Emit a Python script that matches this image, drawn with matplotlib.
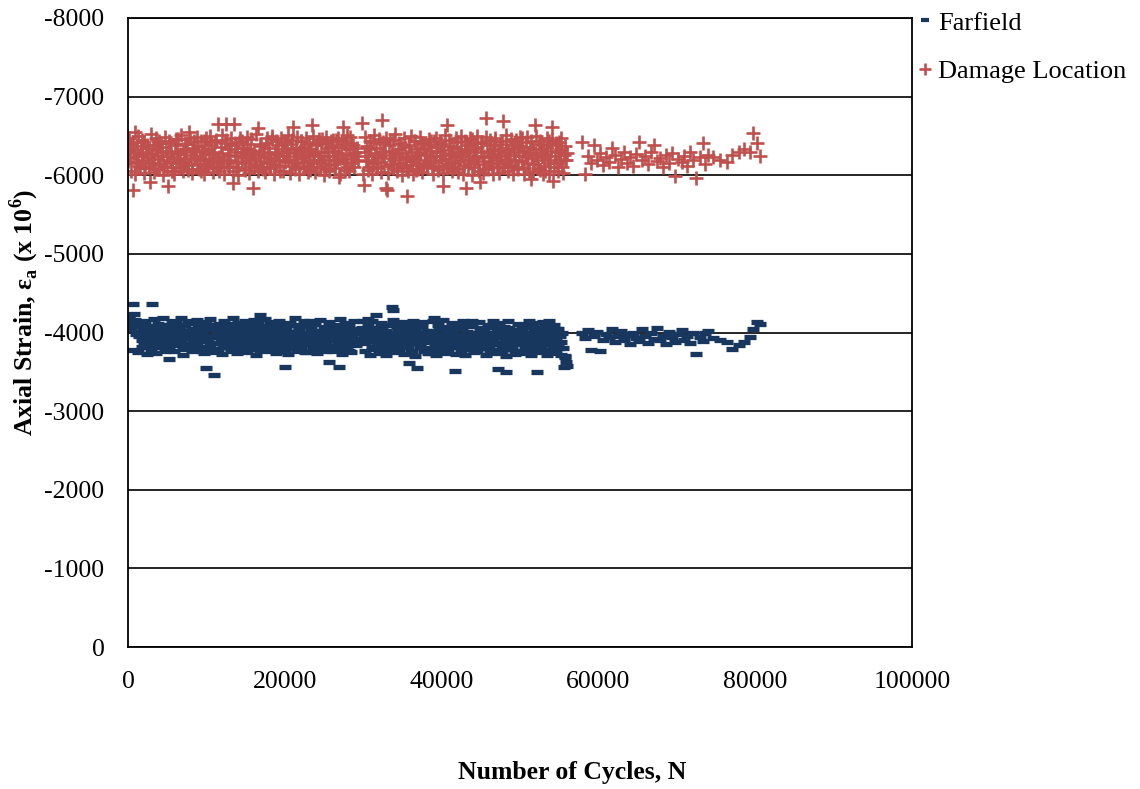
import numpy as np
import matplotlib
matplotlib.use("Agg")
import matplotlib.pyplot as plt
from matplotlib.ticker import FuncFormatter, MultipleLocator

plt.rcParams['font.family'] = ['Liberation Serif', 'DejaVu Serif']
plt.rcParams['mathtext.fontset'] = 'custom'
plt.rcParams['mathtext.rm'] = 'Liberation Serif'
plt.rcParams['mathtext.bf'] = 'Liberation Serif:bold'
plt.rcParams['axes.unicode_minus'] = False

# cycle counts, shared by both gauges, in four recording blocks
cycles_seg1 = [
    0, 150, 290, 440, 580, 730, 870, 1020, 1160, 1310,
    1450, 1600, 1740, 1890, 2030, 2180, 2320, 2470, 2610, 2760,
    2900, 3050, 3190, 3340, 3480, 3630, 3770, 3920, 4060, 4210,
    4350, 4500, 4640, 4790, 4930, 5080, 5220, 5370, 5510, 5660,
    5800, 5950, 6090, 6240, 6380, 6530, 6670, 6820, 6960, 7110,
    7250, 7400, 7540, 7690, 7830, 7980, 8120, 8270, 8410, 8560,
    8700, 8850, 8990, 9140, 9280, 9430, 9570, 9720, 9860, 10010,
    10150, 10300, 10440, 10590, 10730, 10880, 11020, 11170, 11310, 11460,
    11600, 11750, 11890, 12040, 12180, 12330, 12470, 12620, 12760, 12910,
    13050, 13200, 13340, 13490, 13630, 13780, 13920, 14070, 14210, 14360,
    14500, 14650, 14790, 14940, 15080, 15230, 15370, 15520, 15660, 15810,
    15950, 16100, 16240, 16390, 16530, 16680, 16820, 16970, 17110, 17260,
    17400, 17550, 17690, 17840, 17980, 18130, 18270, 18420, 18560, 18710,
    18850, 19000, 19140, 19290, 19430, 19580, 19720, 19870, 20010, 20160,
    20300, 20450, 20590, 20740, 20880, 21030, 21170, 21320, 21460, 21610,
    21750, 21900, 22040, 22190, 22330, 22480, 22620, 22770, 22910, 23060,
    23200, 23350, 23490, 23640, 23780, 23930, 24070, 24220, 24360, 24510,
    24650, 24800, 24940, 25090, 25230, 25380, 25520, 25670, 25810, 25960,
    26100, 26250, 26390, 26540, 26680, 26830, 26970, 27120, 27260, 27410,
    27550, 27700, 27840, 27990, 28130, 28280, 28420, 28570, 28710, 28860,
    29000, 29150, 29300,
]
cycles_seg1b = [
    70, 360, 650, 940, 1230, 1520, 1810, 2100, 2390, 2680,
    2970, 3260, 3550, 3840, 4130, 4420, 4710, 5000, 5290, 5580,
    5870, 6160, 6450, 6740, 7030, 7320, 7610, 7900, 8190, 8480,
    8770, 9060, 9350, 9640, 9930, 10220, 10510, 10800, 11090, 11380,
    11670, 11960, 12250, 12540, 12830, 13120, 13410, 13700, 13990, 14280,
    14570, 14860, 15150, 15440, 15730, 16020, 16310, 16600, 16890, 17180,
    17470, 17760, 18050, 18340, 18630, 18920, 19210, 19500, 19790, 20080,
    20370, 20660, 20950, 21240, 21530, 21820, 22110, 22400, 22690, 22980,
    23270, 23560, 23850, 24140, 24430, 24720, 25010, 25300, 25590, 25880,
    26170, 26460, 26750, 27040, 27330, 27620, 27910, 28200, 28490, 28780,
    29070,
]
cycles_seg2 = [
    29900, 30050, 30190, 30340, 30480, 30630, 30770, 30920, 31060, 31210,
    31350, 31500, 31640, 31790, 31930, 32080, 32220, 32370, 32510, 32660,
    32800, 32950, 33090, 33240, 33380, 33530, 33670, 33820, 33960, 34110,
    34250, 34400, 34540, 34690, 34830, 34980, 35120, 35270, 35410, 35560,
    35700, 35850, 35990, 36140, 36280, 36430, 36570, 36720, 36860, 37010,
    37150, 37300, 37440, 37590, 37730, 37880, 38020, 38170, 38310, 38460,
    38600, 38750, 38890, 39040, 39180, 39330, 39470, 39620, 39760, 39910,
    40050, 40200, 40340, 40490, 40630, 40780, 40920, 41070, 41210, 41360,
    41500, 41650, 41790, 41940, 42080, 42230, 42370, 42520, 42660, 42810,
    42950, 43100, 43240, 43390, 43530, 43680, 43820, 43970, 44110, 44260,
    44400, 44550, 44690, 44840, 44980, 45130, 45270, 45420, 45560, 45710,
    45850, 46000, 46140, 46290, 46430, 46580, 46720, 46870, 47010, 47160,
    47300, 47450, 47590, 47740, 47880, 48030, 48170, 48320, 48460, 48610,
    48750, 48900, 49040, 49190, 49330, 49480, 49620, 49770, 49910, 50060,
    50200, 50350, 50490, 50640, 50780, 50930, 51070, 51220, 51360, 51510,
    51650, 51800, 51940, 52090, 52230, 52380, 52520, 52670, 52810, 52960,
    53100, 53250, 53390, 53540, 53680, 53830, 53970, 54120, 54260, 54410,
    54550, 54700, 54840, 54990, 55130, 55280, 55420, 55570, 55710, 55860,
    56000,
]
cycles_seg2b = [
    29970, 30260, 30550, 30840, 31130, 31420, 31710, 32000, 32290, 32580,
    32870, 33160, 33450, 33740, 34030, 34320, 34610, 34900, 35190, 35480,
    35770, 36060, 36350, 36640, 36930, 37220, 37510, 37800, 38090, 38380,
    38670, 38960, 39250, 39540, 39830, 40120, 40410, 40700, 40990, 41280,
    41570, 41860, 42150, 42440, 42730, 43020, 43310, 43600, 43890, 44180,
    44470, 44760, 45050, 45340, 45630, 45920, 46210, 46500, 46790, 47080,
    47370, 47660, 47950, 48240, 48530, 48820, 49110, 49400, 49690, 49980,
    50270, 50560, 50850, 51140, 51430, 51720, 52010, 52300, 52590, 52880,
    53170, 53460, 53750, 54040, 54330, 54620, 54910, 55200, 55490, 55780,
]
cycles_seg3 = [
    57900, 58300, 58700, 59100, 59400, 59800, 60200, 60600, 61000, 61400,
    61700, 62100, 62500, 62900, 63300, 63700, 64000, 64400, 64800, 65200,
    65600, 66000, 66300, 66700, 67100, 67500, 67900, 68300, 68600, 69000,
    69400, 69800, 70200, 70600, 70900, 71300, 71700, 72100, 72500, 72900,
    73300, 73600, 74000,
]
cycles_tail = [74600, 75500, 76400, 77100, 77900, 78600, 79300, 79700, 80200, 80600]

# farfield gauge strain (x 10^6)
farfield_seg1 = [
    -4120, -4180, -4060, -4150, -4364, -4240, -4090, -3980, -4130, -4010,
    -3960, -4080, -3900, -4020, -3870, -4110, -3990, -3940, -3850, -4050,
    -3920, -4364, -3990, -3880, -4070, -3950, -3820, -4030, -3910, -3990,
    -3860, -4000, -3940, -4090, -3800, -3960, -3660, -4040, -3890, -3930,
    -4010, -3880, -3950, -4100, -3840, -3970, -4060, -3900, -3790, -4020,
    -3930, -3990, -3860, -4120, -3950, -3810, -4040, -3920, -3880, -4000,
    -3970, -3840, -4080, -3910, -3990, -3760, -4030, -3890, -3950, -3550,
    -3900, -4050, -3830, -3960, -4100, -3870, -3460, -3940, -4010, -3780,
    -3950, -4070, -3880, -3990, -3820, -4040, -3930, -3860, -4110, -3970,
    -3890, -3800, -4020, -3950, -3880, -4060, -3740, -3990, -3920, -4030,
    -3860, -3980, -4090, -3900, -3830, -3960, -4050, -3870, -3990, -3790,
    -3940, -4030, -3880, -3980, -3820, -4060, -4220, -3910, -3970, -3850,
    -4010, -3900, -3790, -3950, -4080, -3870, -3960, -4020, -3840, -3930,
    -3990, -3880, -4050, -3920, -3760, -4000, -3850, -3940, -3560, -4070,
    -3910, -3830, -4010, -3960, -3870, -4100, -3940, -3800, -3990, -3890,
    -4040, -3920, -3850, -3970, -4080, -3880, -3750, -4000, -3930, -3860,
    -3970, -4060, -3890, -3810, -3950, -4020, -3870, -3990, -3780, -3940,
    -3880, -4000, -3920, -4070, -3850, -3960, -3790, -3625, -4010, -3900,
    -3950, -3830, -4040, -3900, -3980, -3870, -3560, -4020, -3940, -3810,
    -3990, -3880, -4060, -3930, -3770, -4010, -3900, -3960, -3850, -4040,
    -3920, -3870, -3990,
]
farfield_seg1b = [
    -4200, -4050, -3780, -4160, -3750, -4100, -3820, -4140, -3730, -4080,
    -3790, -4170, -3740, -4110, -3810, -4190, -3760, -4060, -3830, -4150,
    -3770, -4120, -3850, -4180, -3720, -4090, -3800, -4140, -3760, -4030,
    -4160, -3780, -4100, -3740, -4130, -3820, -4170, -3750, -4080, -3790,
    -4110, -3730, -4150, -3810, -4060, -3770, -4190, -3840, -4120, -3760,
    -3800, -4140, -3750, -4090, -3830, -4160, -3720, -4110, -3780, -4050,
    -4170, -3760, -4130, -3790, -4080, -3740, -4150, -3810, -4100, -3770,
    -3730, -4120, -3800, -4180, -3760, -4070, -3820, -4140, -3750, -4090,
    -4150, -3790, -4110, -3740, -4160, -3830, -4060, -3770, -4130, -3800,
    -3760, -4100, -3780, -4170, -3730, -4120, -3810, -4080, -3750, -4140,
    -3840,
]
farfield_seg2 = [
    -4060, -3930, -3870, -4010, -3950, -4170, -3890, -3980, -3820, -4040,
    -3910, -3960, -4220, -3850, -4000, -3930, -3790, -4070, -3900, -3960,
    -3870, -4020, -3940, -3810, -3990, -4090, -4330, -4280, -3920, -3860,
    -3950, -4030, -3780, -3900, -3990, -3840, -4060, -3930, -3880, -3970,
    -3820, -3610, -4000, -3910, -3760, -3950, -4040, -3870, -3550, -3930,
    -3990, -3850, -4080, -3920, -3800, -3960, -3890, -4020, -3740, -3940,
    -3880, -4010, -3930, -4180, -3860, -3970, -3790, -4050, -3910, -3840,
    -3960, -3900, -4070, -3830, -3980, -3750, -3920, -4030, -3870, -3990,
    -3930, -3510, -3850, -4040, -3900, -3810, -3970, -3880, -4060, -3920,
    -3790, -3960, -4010, -3870, -3940, -3830, -4080, -3900, -3760, -3990,
    -3910, -3850, -3970, -4050, -3800, -3940, -3880, -4020, -3860, -3950,
    -4000, -3830, -3920, -3780, -4070, -3890, -3960, -3850, -4010, -3530,
    -3940, -3870, -4040, -3810, -3990, -3900, -3500, -3960, -3840, -4060,
    -3880, -3970, -3790, -4020, -3910, -3850, -4000, -3930, -3760, -3950,
    -4050, -3870, -3940, -3820, -3990, -3900, -4070, -3840, -3960, -3780,
    -3920, -4030, -3860, -3950, -3500, -3890, -4010, -3800, -3970, -3910,
    -3850, -3990, -4060, -3880, -3770, -3940, -3900, -4020, -3830, -3960,
    -3910, -4040, -3860, -3800, -3950, -3880, -3990, -3560, -3700, -3620,
    -3580,
]
farfield_seg2b = [
    -4140, -3760, -4090, -3720, -4150, -3790, -4060, -3740, -4120, -3800,
    -3710, -4100, -3780, -4160, -3750, -4070, -3820, -4130, -3730, -4040,
    -4110, -3770, -4150, -3700, -4080, -3810, -4130, -3760, -4020, -3740,
    -3790, -4140, -3720, -4090, -3770, -4160, -3740, -4050, -3810, -4120,
    -4070, -3730, -4110, -3780, -4140, -3710, -4080, -3800, -4150, -3750,
    -3760, -4130, -3800, -4060, -3720, -4100, -3780, -4150, -3740, -4090,
    -4120, -3750, -4070, -3700, -4140, -3790, -4030, -3730, -4110, -3770,
    -3740, -4090, -3760, -4150, -3710, -4120, -3800, -4060, -3750, -4130,
    -4080, -3720, -4140, -3780, -4100, -3740, -4050, -3710, -3800, -3690,
]
farfield_seg3 = [
    -3990, -3930, -4030, -3780, -3960, -4010, -3770, -3900, -3980, -3940,
    -4050, -3880, -3950, -4020, -3910, -3970, -3860, -4000, -3930, -3890,
    -4040, -3950, -3870, -3990, -3920, -4060, -3900, -3960, -3850, -4010,
    -3940, -3880, -3980, -4030, -3910, -3960, -3870, -4000, -3730, -3940,
    -3890, -3990, -4020,
]
farfield_tail = [-3930, -3900, -3880, -3790, -3840, -3880, -3940, -4045, -4135, -4110]

# damage location gauge strain (x 10^6)
damage_seg1 = [
    -6180, -6310, -6220, -6400, -5815, -6280, -6550, -6150, -6330, -6240,
    -6120, -6370, -6260, -6190, -6420, -6090, -6300, -6230, -6350, -5920,
    -6270, -6160, -6390, -6210, -6080, -6330, -6250, -6440, -6140, -6290,
    -6360, -6200, -6110, -6310, -6240, -5865, -6410, -6170, -6280, -6060,
    -6230, -6380, -6150, -6300, -6460, -6190, -6270, -6100, -6340, -6220,
    -6170, -6290, -6400, -6130, -6550, -6260, -6080, -6350, -6210, -6320,
    -6250, -6140, -6370, -6230, -6050, -6310, -6190, -6430, -6280, -6120,
    -6340, -6210, -6160, -6390, -6270, -6090, -6300, -6450, -6180, -6650,
    -6230, -6120, -6360, -6280, -6190, -6410, -6650, -6150, -6260, -6330,
    -6200, -6380, -5900, -6650, -6240, -6110, -6300, -6170, -6420, -6260,
    -6150, -6290, -6350, -6080, -6230, -6400, -6190, -6320, -6120, -6270,
    -5840, -6310, -6220, -6140, -6600, -6260, -6180, -6370, -6090, -6300,
    -6240, -6410, -6160, -6280, -6350, -6110, -6220, -6460, -6190, -6300,
    -6130, -6270, -6380, -6200, -6060, -6330, -6250, -6420, -6170, -6290,
    -6350, -6190, -6240, -6400, -6120, -6620, -6280, -6150, -6330, -6210,
    -6090, -6310, -6440, -6230, -6170, -6360, -6260, -6120, -6290, -6400,
    -6200, -6330, -6640, -6150, -6270, -6380, -6110, -6250, -6460, -6190,
    -6300, -6160, -6240, -6410, -6080, -6290, -6350, -6200, -6130, -6370,
    -6250, -6140, -6310, -6450, -6190, -6280, -5980, -6360, -6220, -6620,
    -6170, -6400, -6260, -6100, -6330, -6490, -6210, -6150, -6380, -6280,
    -6240, -6350, -6190,
]
damage_seg1b = [
    -6480, -6050, -6420, -6010, -6500, -6090, -6450, -6030, -6390, -6120,
    -6520, -6040, -6470, -6080, -6410, -6000, -6490, -6100, -6440, -6060,
    -6020, -6460, -6110, -6510, -6050, -6400, -6070, -6480, -6030, -6430,
    -6490, -6080, -6440, -6010, -6470, -6130, -6500, -6040, -6420, -6090,
    -6060, -6510, -6020, -6450, -6100, -6480, -6050, -6410, -6000, -6470,
    -6430, -6070, -6490, -6030, -6460, -6110, -6520, -6060, -6400, -6080,
    -6040, -6470, -6090, -6500, -6020, -6440, -6120, -6480, -6050, -6420,
    -6510, -6030, -6450, -6080, -6490, -6010, -6430, -6100, -6470, -6040,
    -6070, -6500, -6040, -6420, -6110, -6460, -6000, -6490, -6060, -6440,
    -6450, -6090, -6480, -6020, -6430, -6070, -6510, -6050, -6410, -6100,
    -6300,
]
damage_seg2 = [
    -6665, -5880, -6290, -6180, -6370, -6240, -6110, -6330, -6200, -6420,
    -6150, -6280, -6350, -6090, -6230, -6410, -6170, -6705, -6260, -6120,
    -6310, -5840, -5815, -6380, -6220, -6140, -6300, -6450, -6190, -6270,
    -6080, -6340, -6230, -6160, -6400, -6280, -6120, -6360, -6210, -5740,
    -6250, -6390, -6130, -6300, -6180, -6440, -6220, -6070, -6330, -6260,
    -6160, -6290, -6410, -6110, -6350, -6200, -6270, -6140, -6380, -6230,
    -6310, -6090, -6240, -6430, -6170, -6300, -6360, -6120, -6250, -6400,
    -6190, -5865, -6320, -6210, -6640, -6140, -6280, -6370, -6100, -6260,
    -6350, -6170, -6230, -6420, -6080, -6300, -6190, -6340, -6250, -6130,
    -6280, -5840, -6390, -6200, -6310, -6150, -6460, -6240, -6110, -6330,
    -6220, -6360, -6140, -5915, -6290, -6410, -6180, -6250, -6080, -6730,
    -6300, -6160, -6380, -6230, -6120, -6340, -6270, -6440, -6190, -6310,
    -6150, -6400, -6240, -6100, -6690, -6280, -6350, -6170, -6320, -6210,
    -6260, -6130, -6390, -6290, -6200, -6450, -6110, -6330, -6240, -6370,
    -6180, -6310, -6090, -6250, -6420, -6160, -6280, -6360, -5955, -6220,
    -6340, -6140, -6640, -6260, -6190, -6400, -6070, -6300, -6230, -6380,
    -6120, -6270, -6350, -6200, -6440, -6160, -6310, -6615, -5930, -6240,
    -6380, -6150, -6290, -6420, -6210, -6330, -6100, -6260, -6370, -6190,
    -6280,
]
damage_seg2b = [
    -6020, -6490, -6070, -6440, -6010, -6510, -6100, -6460, -6040, -6420,
    -6480, -6030, -6450, -6090, -6520, -6050, -6410, -6000, -6470, -6110,
    -6060, -6500, -6020, -6430, -6080, -6490, -6040, -6400, -6120, -6460,
    -6440, -6010, -6480, -6070, -6420, -6030, -6510, -6090, -6450, -6050,
    -6090, -6470, -6040, -6500, -6020, -6430, -6110, -6480, -6000, -6410,
    -6500, -6060, -6420, -6030, -6490, -6080, -6450, -6010, -6470, -6100,
    -6030, -6440, -6100, -6510, -6050, -6460, -6020, -6420, -6080, -6490,
    -6470, -6010, -6490, -6060, -6430, -6040, -6500, -6090, -6440, -6020,
    -6050, -6480, -6020, -6450, -6110, -6410, -6060, -6470, -6030, -6200,
]
damage_seg3 = [
    -6425, -6020, -6240, -6150, -6385, -6200, -6280, -6130, -6230, -6170,
    -6350, -6260, -6110, -6210, -6290, -6160, -6230, -6120, -6270, -6425,
    -6190, -6240, -6140, -6300, -6385, -6180, -6220, -6100, -6260, -6150,
    -6280, -5990, -6210, -6170, -6250, -6120, -6300, -6190, -5965, -6230,
    -6410, -6140, -6260,
]
damage_tail = [-6235, -6195, -6170, -6260, -6290, -6335, -6300, -6540, -6410, -6240]

cycles = np.array(cycles_seg1 + cycles_seg1b + cycles_seg2 + cycles_seg2b
                  + cycles_seg3 + cycles_tail)
farfield = np.array(farfield_seg1 + farfield_seg1b + farfield_seg2 + farfield_seg2b
                    + farfield_seg3 + farfield_tail)
damage = np.array(damage_seg1 + damage_seg1b + damage_seg2 + damage_seg2b
                  + damage_seg3 + damage_tail)

fig = plt.figure(figsize=(11.4, 7.89), dpi=100)
ax = fig.add_axes([128 / 1140, 1 - 647 / 789, 784 / 1140, 629 / 789])

ax.plot(cycles, farfield, linestyle='none', marker='_', markersize=8.5,
        markeredgewidth=3.8, color='#17375E', label='Farfield')
ax.plot(cycles, damage, linestyle='none', marker='+', markersize=10,
        markeredgewidth=1.9, color='#C0504D', label='Damage Location')

ax.set_xlim(0, 100000)
ax.set_ylim(0, -8000)
ax.xaxis.set_major_locator(MultipleLocator(20000))
ax.yaxis.set_major_locator(MultipleLocator(1000))
ax.yaxis.set_major_formatter(FuncFormatter(lambda v, p: '%d' % v))
ax.tick_params(axis='both', length=0, labelsize=18.5)
ax.tick_params(axis='y', pad=17)
ax.tick_params(axis='x', pad=17)
ax.yaxis.grid(True, color='black', linewidth=1.2)
ax.set_axisbelow(True)
for s in ax.spines.values():
    s.set_linewidth(1.3)
    s.set_color('black')

fig.text(572 / 1140, 1 - 773 / 789, 'Number of Cycles, N', ha='center', va='center',
         fontsize=18.5, fontweight='bold')
fig.text(24 / 1140, 1 - 312 / 789,
         r'Axial Strain, ε$_\mathbf{a}$ (x 10$^\mathbf{6}$)',
         ha='center', va='center', rotation=90, fontsize=18.5, fontweight='bold')

leg = ax.legend(loc='upper left', bbox_to_anchor=(1.0064, 1.011), frameon=False,
                fontsize=19, handlelength=0.6, handletextpad=0.2, labelspacing=0.94,
                borderpad=0, borderaxespad=0)
leg.legend_handles[0].set_markersize(6)
leg.legend_handles[0].set_markeredgewidth(3)
leg.legend_handles[1].set_markersize(9)

fig.savefig('out.png', dpi=100)
